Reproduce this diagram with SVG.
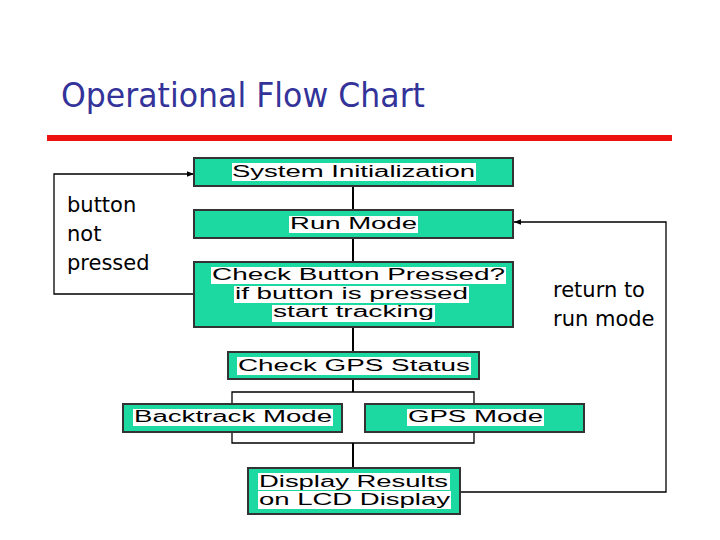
<svg xmlns="http://www.w3.org/2000/svg" width="720" height="540" viewBox="0 0 720 540">
<defs>
<marker id="arr" viewBox="0 0 10 10" refX="10" refY="5" markerWidth="7" markerHeight="7" markerUnits="userSpaceOnUse" orient="auto">
<path d="M0,1 L10,5 L0,9 z" fill="#000"/>
</marker>
</defs>
<style>
.box{fill:#1cd9a2;stroke:#333;stroke-width:2}
.hl{fill:#fff}
.bt{font-family:"Liberation Sans",Arial,sans-serif;font-size:16px;fill:#000}
.lbl{font-family:"DejaVu Sans","Liberation Sans",sans-serif;font-size:21px;fill:#000}
.ln{fill:none;stroke:#000;stroke-width:1.3}
.lnt{fill:none;stroke:#000;stroke-width:2}
</style>
<rect width="720" height="540" fill="#fff"/>
<text x="61" y="107" font-family="DejaVu Sans,Liberation Sans,sans-serif" font-size="33" fill="#333399" textLength="364" lengthAdjust="spacingAndGlyphs">Operational Flow Chart</text>
<rect x="47" y="135" width="625" height="6" fill="#ee1111"/>

<g id="connectors">
<line class="lnt" x1="353" y1="186" x2="353" y2="210"/>
<line class="lnt" x1="353" y1="238" x2="353" y2="262"/>
<line class="lnt" x1="353" y1="327" x2="353" y2="352"/>
<line class="lnt" x1="353" y1="379" x2="353" y2="392"/>
<polyline class="ln" points="232,404 232,392 474,392 474,404"/>
<polyline class="ln" points="232,432 232,443 474,443 474,432"/>
<line class="lnt" x1="353" y1="443" x2="353" y2="468"/>
<polyline class="ln" points="194,294 54,294 54,174 194,174" marker-end="url(#arr)"/>
<polyline class="ln" points="460,492 666,492 666,222 514,222" marker-end="url(#arr)"/>
</g>

<g id="n-init">
<rect class="box" x="194" y="158" width="319" height="28"/>
<rect class="hl" x="232" y="163" width="244" height="18"/>
<text class="bt" x="232" y="177" textLength="243" lengthAdjust="spacingAndGlyphs">System Initialization</text>
</g>
<g id="n-run">
<rect class="box" x="194" y="210" width="319" height="28"/>
<rect class="hl" x="289" y="216" width="129" height="17"/>
<text class="bt" x="290" y="229" textLength="127" lengthAdjust="spacingAndGlyphs">Run Mode</text>
</g>
<g id="n-check">
<rect class="box" x="194" y="262" width="319" height="65"/>
<rect class="hl" x="211" y="267" width="295" height="17"/>
<rect class="hl" x="234" y="286" width="235" height="17"/>
<rect class="hl" x="272" y="305" width="163" height="17"/>
<text class="bt" x="212" y="280" textLength="293" lengthAdjust="spacingAndGlyphs">Check Button Pressed?</text>
<text class="bt" x="235" y="299" textLength="233" lengthAdjust="spacingAndGlyphs">if button is pressed</text>
<text class="bt" x="273" y="317" textLength="161" lengthAdjust="spacingAndGlyphs">start tracking</text>
</g>
<g id="n-gps-status">
<rect class="box" x="228" y="352" width="251" height="27"/>
<rect class="hl" x="237" y="357" width="234" height="18"/>
<text class="bt" x="238" y="371" textLength="232" lengthAdjust="spacingAndGlyphs">Check GPS Status</text>
</g>
<g id="n-backtrack">
<rect class="box" x="123" y="404" width="219" height="28"/>
<rect class="hl" x="133" y="409" width="200" height="17"/>
<text class="bt" x="134" y="422" textLength="198" lengthAdjust="spacingAndGlyphs">Backtrack Mode</text>
</g>
<g id="n-gps-mode">
<rect class="box" x="365" y="404" width="219" height="28"/>
<rect class="hl" x="407" y="409" width="137" height="17"/>
<text class="bt" x="408" y="422" textLength="135" lengthAdjust="spacingAndGlyphs">GPS Mode</text>
</g>
<g id="n-display">
<rect class="box" x="248" y="468" width="212" height="46"/>
<rect class="hl" x="258" y="473" width="192" height="17"/>
<rect class="hl" x="258" y="491" width="193" height="18"/>
<text class="bt" x="259" y="487" textLength="189" lengthAdjust="spacingAndGlyphs">Display Results</text>
<text class="bt" x="259" y="505" textLength="191" lengthAdjust="spacingAndGlyphs">on LCD Display</text>
</g>

<g id="labels">
<text class="lbl" x="67" y="212">button</text>
<text class="lbl" x="67" y="241">not</text>
<text class="lbl" x="67" y="270">pressed</text>
<text class="lbl" x="553" y="297">return to</text>
<text class="lbl" x="553" y="326">run mode</text>
</g>
</svg>
